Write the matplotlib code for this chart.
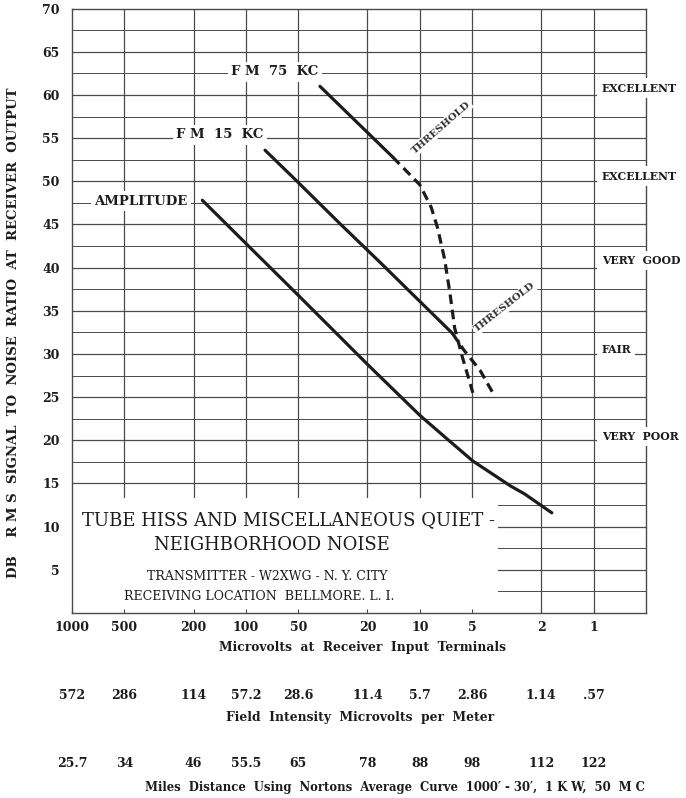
import numpy as np
import matplotlib
matplotlib.use('Agg')
import matplotlib.pyplot as plt
from matplotlib.patches import Rectangle

# Data ----------------------------------------------------------------
# microvolts at receiver input vs dB signal/noise
amp_uv = [178, 100, 50, 20, 10, 7.0, 4.95, 3.0, 2.5, 1.74]
amp_db = [47.8, 42.8, 36.8, 28.8, 22.9, 20.2, 17.6, 14.7, 13.8, 11.6]

fm15_uv = [77.6, 50.8, 28.8, 16.9, 6.5]
fm15_db = [53.6, 50.0, 45.1, 40.6, 32.4]
fm15_th_uv = [6.5, 5.6, 4.5, 3.8]          # dashed threshold part
fm15_th_db = [32.4, 30.5, 28.1, 25.5]

fm75_uv = [37.5, 14.3]
fm75_db = [61.0, 52.8]
fm75_th_uv = [14.3, 10.0, 8.6, 7.9, 7.2, 6.7, 6.3, 5.7, 4.95]
fm75_th_db = [52.8, 49.6, 47.0, 44.6, 41.0, 37.0, 33.0, 29.7, 25.5]

uv_ticks = [1000, 500, 200, 100, 50, 20, 10, 5, 2, 1]
uv_labels = ['1000', '500', '200', '100', '50', '20', '10', '5', '2', '1']
field_labels = ['572', '286', '114', '57.2', '28.6', '11.4', '5.7', '2.86', '1.14', '.57']
miles_labels = ['25.7', '34', '46', '55.5', '65', '78', '88', '98', '112', '122']
db_ticks = [5, 10, 15, 20, 25, 30, 35, 40, 45, 50, 55, 60, 65, 70]

quality = ['EXCELLENT', 'EXCELLENT', 'VERY  GOOD', 'FAIR', 'VERY  POOR']
quality_db = [60.8, 50.6, 40.8, 30.5, 20.4]

W, H = 686, 798
def fx(px):
    return px / W
def fy(py):
    return 1 - py / H

plt.rcParams['font.family'] = ['DejaVu Serif']
ink = '#1c1c1c'
gridc = '#4a4a4a'

fig = plt.figure(figsize=(W / 100, H / 100), dpi=100)
ax = fig.add_axes([fx(72), fy(613), fx(646) - fx(72), fy(8.6) - fy(613)])
ax.set_xscale('log')
ax.set_xlim(1000, 0.5)
ax.set_ylim(0, 70)

# grid drawn by hand so the white boxes can sit over it
for v in uv_ticks[1:]:
    ax.axvline(v, color=gridc, lw=0.9, zorder=0.3)
for d in np.arange(2.5, 70, 2.5):
    ax.axhline(d, color=gridc, lw=0.9 if d % 5 == 0 else 0.7, zorder=0.3)

# blank area for the title block
ax.add_patch(Rectangle((3.55, 0), 1000 - 3.55, 13.3, facecolor='white',
                       edgecolor='none', zorder=0.6))

for s in ax.spines.values():
    s.set_color(gridc)
    s.set_linewidth(1.0)

# curves
ax.plot(amp_uv, amp_db, color=ink, lw=2.3, solid_capstyle='round', zorder=2)
ax.plot(fm15_uv, fm15_db, color=ink, lw=2.3, solid_capstyle='round', zorder=2)
ax.plot(fm15_th_uv, fm15_th_db, color=ink, lw=2.3, dashes=(3, 1.8), zorder=2)
ax.plot(fm75_uv, fm75_db, color=ink, lw=2.3, solid_capstyle='round', zorder=2)
ax.plot(fm75_th_uv, fm75_th_db, color=ink, lw=2.3, dashes=(3, 1.8), zorder=2)

wbox = dict(facecolor='white', edgecolor='none', pad=2.5)
ax.text(68, 62.7, 'F M  75  KC', ha='center', va='center', fontsize=9.5,
        fontweight='bold', color=ink, bbox=wbox, zorder=3)
ax.text(141, 55.4, 'F M  15  KC', ha='center', va='center', fontsize=9.5,
        fontweight='bold', color=ink, bbox=wbox, zorder=3)
ax.text(401, 47.7, 'AMPLITUDE', ha='center', va='center', fontsize=9.5,
        fontweight='bold', color=ink, bbox=wbox, zorder=3)
ax.text(7.55, 56.2, 'THRESHOLD', ha='center', va='center', fontsize=7.3,
        fontweight='bold', color='#333333', rotation=41,
        bbox=dict(facecolor='white', edgecolor='none', pad=1), zorder=3)
ax.text(3.24, 35.4, 'THRESHOLD', ha='center', va='center', fontsize=7.3,
        fontweight='bold', color='#333333', rotation=38,
        bbox=dict(facecolor='white', edgecolor='none', pad=1), zorder=3)

for q, d in zip(quality, quality_db):
    ax.text(0.9, d, q, ha='left', va='center', fontsize=7.8, fontweight='bold',
            color=ink, bbox=dict(facecolor='white', edgecolor='none', pad=3),
            zorder=3, clip_on=False)

# ticks
ax.set_yticks(db_ticks)
ax.set_yticklabels([str(t) for t in db_ticks], fontsize=9, fontweight='bold', color=ink)
ax.set_xticks(uv_ticks)
ax.set_xticklabels(uv_labels, fontsize=9, fontweight='bold', color=ink)
ax.xaxis.set_minor_locator(matplotlib.ticker.NullLocator())
ax.tick_params(axis='y', length=0, pad=9)
ax.tick_params(axis='x', direction='in', length=3, color=gridc, pad=6)

xt = ax.get_xaxis_transform()
for v, lab in zip(uv_ticks, field_labels):
    ax.text(v, -0.1357, lab, transform=xt, ha='center', va='center',
            fontsize=9, fontweight='bold', color=ink)
for v, lab in zip(uv_ticks, miles_labels):
    ax.text(v, -0.2482, lab, transform=xt, ha='center', va='center',
            fontsize=9, fontweight='bold', color=ink)

fig.text(fx(362), fy(648), 'Microvolts  at  Receiver  Input  Terminals',
         ha='center', va='center', fontsize=8.8, fontweight='bold', color=ink)
fig.text(fx(360), fy(718), 'Field  Intensity  Microvolts  per  Meter',
         ha='center', va='center', fontsize=8.8, fontweight='bold', color=ink)
fig.text(fx(395), fy(788), "Miles  Distance  Using  Nortons  Average  Curve  1000\u2032 - 30\u2032,  1 K W,  50  M C",
         ha='center', va='center', fontsize=8.4, fontweight='bold', color=ink)

fig.text(fx(14), fy(333), 'DB    R M S  SIGNAL  TO  NOISE  RATIO  AT  RECEIVER  OUTPUT',
         rotation=90, ha='center', va='center', fontsize=9.5, fontweight='bold', color=ink)

# title block
fig.text(fx(288), fy(520), 'TUBE HISS AND MISCELLANEOUS QUIET -',
         ha='center', va='center', fontsize=13, color=ink)
fig.text(fx(272), fy(545), 'NEIGHBORHOOD NOISE',
         ha='center', va='center', fontsize=13, color=ink)
fig.text(fx(267), fy(577), 'TRANSMITTER - W2XWG - N. Y. CITY',
         ha='center', va='center', fontsize=9, color=ink)
fig.text(fx(259), fy(596), 'RECEIVING LOCATION  BELLMORE. L. I.',
         ha='center', va='center', fontsize=9, color=ink)

fig.savefig('out.png', dpi=100, facecolor='white')
